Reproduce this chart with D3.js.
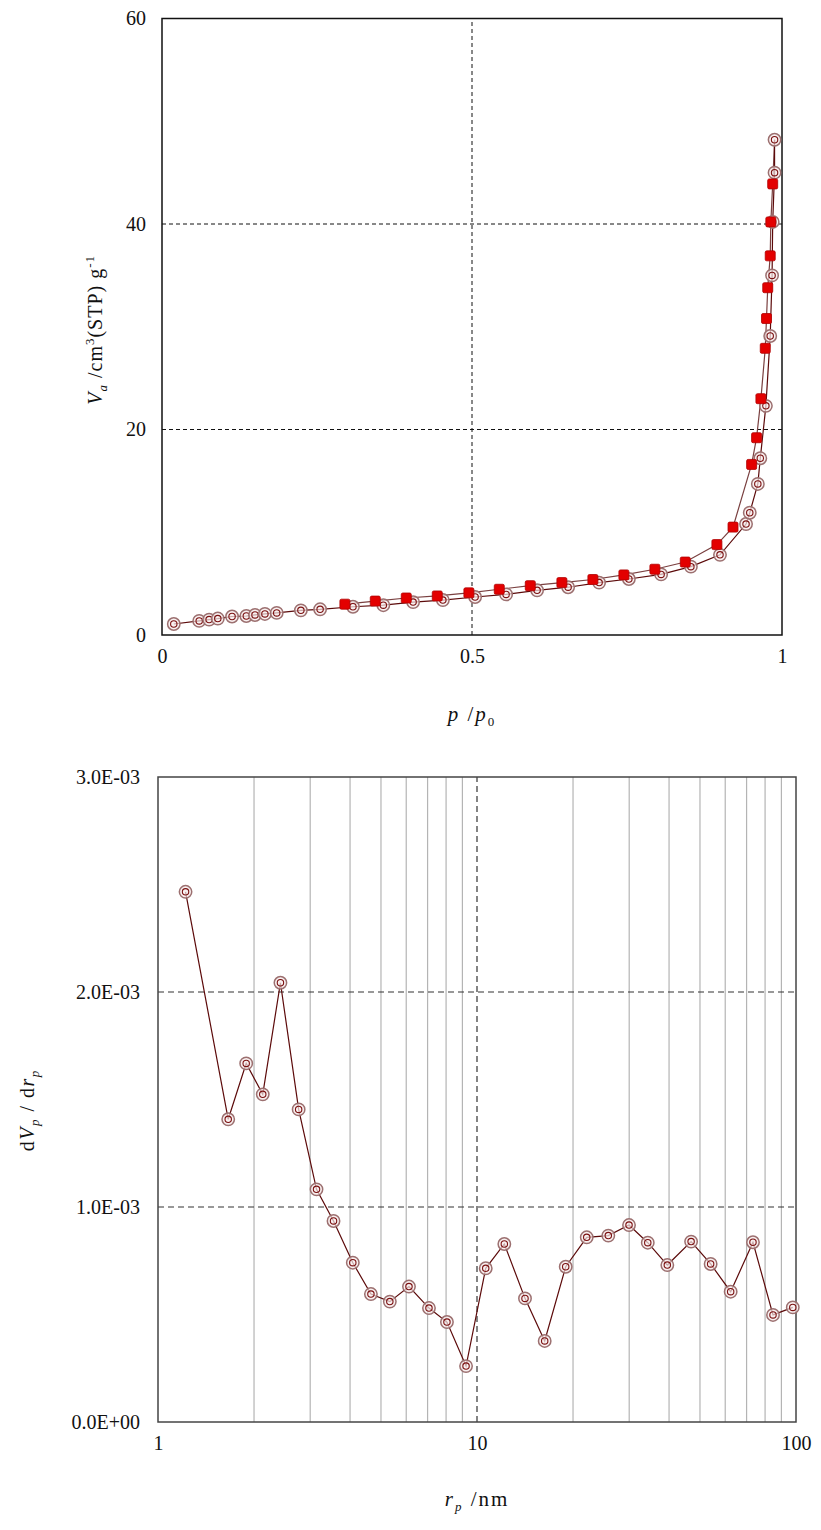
<!DOCTYPE html>
<html>
<head>
<meta charset="utf-8">
<script src="https://cdn.jsdelivr.net/npm/d3@7"></script>
<style>
  body { margin: 0; background: #fff; }
  text { font-family: "Liberation Serif", "Times New Roman", serif; fill: #111; }
</style>
</head>
<body>
<script>
// Isotherm: adsorption branch (p/p0, Va)
const adsP = [0.019, 0.060, 0.076, 0.090, 0.113, 0.136, 0.150, 0.166, 0.185, 0.224, 0.255,
  0.308, 0.357, 0.405, 0.453, 0.505, 0.555, 0.605, 0.655, 0.705, 0.753, 0.805, 0.853,
  0.900, 0.942, 0.948, 0.961, 0.965, 0.974, 0.981, 0.984, 0.985, 0.988, 0.988];
const adsV = [1.07, 1.37, 1.5, 1.6, 1.8, 1.85, 1.95, 2.05, 2.15, 2.4, 2.5,
  2.75, 2.9, 3.2, 3.4, 3.7, 3.95, 4.35, 4.65, 5.1, 5.45, 5.9, 6.65,
  7.8, 10.8, 11.9, 14.7, 17.2, 22.3, 29.1, 35.0, 40.2, 45.0, 48.2];

// Isotherm: desorption branch
const desP = [0.295, 0.344, 0.394, 0.444, 0.495, 0.544, 0.594, 0.645, 0.695, 0.745, 0.795,
  0.844, 0.895, 0.921, 0.951, 0.959, 0.966, 0.973, 0.975, 0.977, 0.981, 0.982, 0.985];
const desV = [3.0, 3.3, 3.6, 3.8, 4.1, 4.45, 4.8, 5.1, 5.4, 5.85, 6.4,
  7.1, 8.8, 10.5, 16.6, 19.2, 23.0, 27.9, 30.8, 33.8, 36.9, 40.2, 43.9];

// Pore size distribution (rp in nm, dVp/drp)
const poreR = [1.22, 1.66, 1.89, 2.13, 2.42, 2.76, 3.14, 3.55, 4.08, 4.65, 5.33, 6.12,
  7.07, 8.05, 9.24, 10.65, 12.18, 14.14, 16.3, 18.97, 22.08, 25.8, 29.96, 34.3,
  39.5, 46.9, 54.0, 62.4, 73.3, 84.7, 97.7];
const poreD = [2.466, 1.408, 1.668, 1.524, 2.043, 1.454, 1.082, 0.935, 0.741, 0.595, 0.56, 0.63,
  0.53, 0.465, 0.26, 0.715, 0.828, 0.575, 0.377, 0.722, 0.859, 0.867, 0.916, 0.834,
  0.730, 0.839, 0.735, 0.606, 0.836, 0.498, 0.533].map(d => d * 1e-3);

const isoXTicks = [0, 0.5, 1];
const isoYTicks = [0, 20, 40, 60];
const poreXTicks = [1, 10, 100];
const poreYTicks = [0, 1e-3, 2e-3, 3e-3];

const svg = d3.select("body").append("svg")
  .attr("width", 821)
  .attr("height", 1530);

const lineColor = "#5c0a0a";

// double ring marker used for the open symbols
function ringMarker(g, data, x, y) {
  const m = g.selectAll(null).data(data).enter().append("g")
    .attr("transform", d => `translate(${x(d)},${y(d)})`);
  m.append("circle").attr("r", 6.2)
    .attr("fill", "#f6eaea").attr("fill-opacity", 0.7)
    .attr("stroke", "#9c7070").attr("stroke-width", 1.5);
  m.append("circle").attr("r", 3.2)
    .attr("fill", "none").attr("stroke", "#7a1010").attr("stroke-width", 1.1);
}

function styleTicks(g) {
  g.select(".domain").remove();
  g.selectAll(".tick line").remove();
  g.attr("font-family", null);
  g.selectAll(".tick text").style("font-size", "20px").attr("fill", "#111");
}

// ---------- top chart: isotherm ----------
const x1 = d3.scaleLinear().domain([0, 1]).range([162, 782]);
const y1 = d3.scaleLinear().domain([0, 60]).range([635, 18.5]);
const topG = svg.append("g");

// dashed grid
topG.selectAll(".hgrid").data([20, 40]).enter().append("line")
  .attr("x1", x1(0)).attr("x2", x1(1))
  .attr("y1", d => y1(d)).attr("y2", d => y1(d))
  .attr("stroke", "#111").attr("stroke-width", 1).attr("stroke-dasharray", "4 3");
topG.append("line")
  .attr("x1", x1(0.5)).attr("x2", x1(0.5))
  .attr("y1", y1(0)).attr("y2", y1(60))
  .attr("stroke", "#111").attr("stroke-width", 1).attr("stroke-dasharray", "4 3");

topG.append("rect")
  .attr("x", x1(0)).attr("y", y1(60))
  .attr("width", x1(1) - x1(0)).attr("height", y1(0) - y1(60))
  .attr("fill", "none").attr("stroke", "#111").attr("stroke-width", 1.5);

topG.append("g")
  .attr("transform", `translate(0,${y1(0) + 11})`)
  .call(d3.axisBottom(x1).tickValues(isoXTicks).tickFormat(d3.format("")).tickSize(0))
  .call(styleTicks);
topG.append("g")
  .attr("transform", `translate(${x1(0) - 13},0)`)
  .call(d3.axisLeft(y1).tickValues(isoYTicks).tickSize(0))
  .call(styleTicks);

const ads = adsP.map((p, i) => [p, adsV[i]]);
const des = desP.map((p, i) => [p, desV[i]]);
const line1 = d3.line().x(d => x1(d[0])).y(d => y1(d[1]));

topG.append("path").datum(des.concat([ads[ads.length - 1]]))
  .attr("d", line1).attr("fill", "none")
  .attr("stroke", "#7a4040").attr("stroke-width", 1.2);
topG.append("path").datum(ads)
  .attr("d", line1).attr("fill", "none")
  .attr("stroke", lineColor).attr("stroke-width", 1.2);

ringMarker(topG, ads, d => x1(d[0]), d => y1(d[1]));

topG.selectAll(".sq").data(des).enter().append("rect")
  .attr("x", d => x1(d[0]) - 5).attr("y", d => y1(d[1]) - 5)
  .attr("width", 10).attr("height", 10).attr("rx", 1.5)
  .attr("fill", "#e30000").attr("stroke", "#b00000").attr("stroke-width", 0.8);

// axis titles
const xt1 = topG.append("text").attr("x", x1(0.5)).attr("y", 721)
  .attr("text-anchor", "middle").style("font-size", "21px").style("letter-spacing", "2px");
xt1.append("tspan").style("font-style", "italic").text("p");
xt1.append("tspan").text(" /");
xt1.append("tspan").style("font-style", "italic").text("p");
xt1.append("tspan").attr("dy", 5).style("font-size", "13px").text("0");

const yt1 = topG.append("text")
  .attr("transform", `translate(102,${y1(29.7)}) rotate(-90)`)
  .attr("text-anchor", "middle").style("font-size", "20px").style("letter-spacing", "1px");
yt1.append("tspan").style("font-style", "italic").text("V");
yt1.append("tspan").attr("dy", 5).style("font-size", "13px").style("font-style", "italic").text("a");
yt1.append("tspan").attr("dy", -5).text(" /cm");
yt1.append("tspan").attr("dy", -8).style("font-size", "13px").text("3");
yt1.append("tspan").attr("dy", 8).text("(STP) g");
yt1.append("tspan").attr("dy", -8).style("font-size", "13px").text("-1");

// ---------- bottom chart: pore size distribution ----------
const x2 = d3.scaleLog().domain([1, 100]).range([158, 796]);
const y2 = d3.scaleLinear().domain([0, 3e-3]).range([1422, 777]);
const botG = svg.append("g");

const minor = d3.range(2, 10).concat(d3.range(20, 100, 10));
botG.selectAll(".vgrid").data(minor).enter().append("line")
  .attr("x1", d => x2(d)).attr("x2", d => x2(d))
  .attr("y1", y2(0)).attr("y2", y2(3e-3))
  .attr("stroke", "#b4b4b4").attr("stroke-width", 1.2);
botG.selectAll(".hgrid").data([1e-3, 2e-3]).enter().append("line")
  .attr("x1", x2(1)).attr("x2", x2(100))
  .attr("y1", d => y2(d)).attr("y2", d => y2(d))
  .attr("stroke", "#333").attr("stroke-width", 1.2).attr("stroke-dasharray", "6 4");
botG.append("line")
  .attr("x1", x2(10)).attr("x2", x2(10))
  .attr("y1", y2(0)).attr("y2", y2(3e-3))
  .attr("stroke", "#333").attr("stroke-width", 1.2).attr("stroke-dasharray", "6 4");

botG.append("rect")
  .attr("x", x2(1)).attr("y", y2(3e-3))
  .attr("width", x2(100) - x2(1)).attr("height", y2(0) - y2(3e-3))
  .attr("fill", "none").attr("stroke", "#444").attr("stroke-width", 1.5);

const sci = d => {
  if (d === 0) return "0.0E+00";
  const [m, e] = d.toExponential(1).split("e");
  const n = +e;
  return m + "E" + (n < 0 ? "-" : "+") + String(Math.abs(n)).padStart(2, "0");
};

botG.append("g")
  .attr("transform", `translate(0,${y2(0) + 11})`)
  .call(d3.axisBottom(x2).tickValues(poreXTicks).tickFormat(d3.format("")).tickSize(0))
  .call(styleTicks);
botG.append("g")
  .attr("transform", `translate(${x2(1) - 15},0)`)
  .call(d3.axisLeft(y2).tickValues(poreYTicks).tickFormat(sci).tickSize(0))
  .call(styleTicks);

const pore = poreR.map((r, i) => [r, poreD[i]]);
botG.append("path").datum(pore)
  .attr("d", d3.line().x(d => x2(d[0])).y(d => y2(d[1])))
  .attr("fill", "none").attr("stroke", lineColor).attr("stroke-width", 1.2);
ringMarker(botG, pore, d => x2(d[0]), d => y2(d[1]));

const xt2 = botG.append("text").attr("x", x2(10)).attr("y", 1506)
  .attr("text-anchor", "middle").style("font-size", "21px").style("letter-spacing", "2px");
xt2.append("tspan").style("font-style", "italic").text("r");
xt2.append("tspan").attr("dy", 5).style("font-size", "13px").style("font-style", "italic").text("p");
xt2.append("tspan").attr("dy", -5).text(" /nm");

const yt2 = botG.append("text")
  .attr("transform", `translate(34,${y2(1.45e-3)}) rotate(-90)`)
  .attr("text-anchor", "middle").style("font-size", "20px").style("letter-spacing", "1.5px");
yt2.append("tspan").text("d");
yt2.append("tspan").style("font-style", "italic").text("V");
yt2.append("tspan").attr("dy", 5).style("font-size", "13px").style("font-style", "italic").text("p");
yt2.append("tspan").attr("dy", -5).text(" / d");
yt2.append("tspan").style("font-style", "italic").text("r");
yt2.append("tspan").attr("dy", 5).style("font-size", "13px").style("font-style", "italic").text("p");
</script>
</body>
</html>
